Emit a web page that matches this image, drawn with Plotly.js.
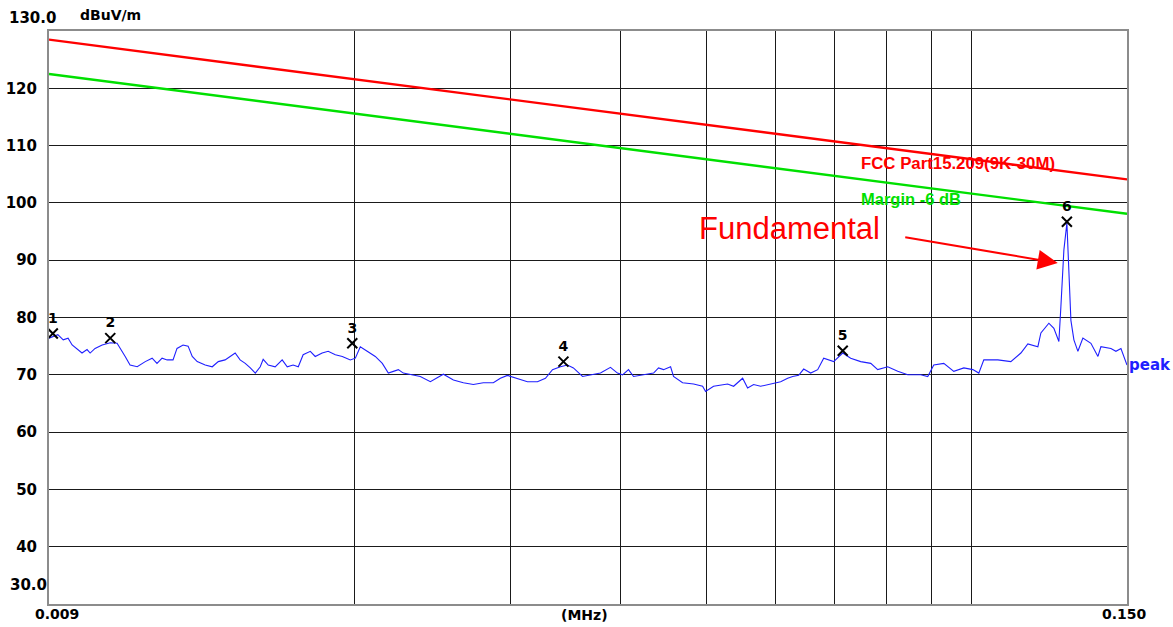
<!DOCTYPE html>
<html>
<head>
<meta charset="utf-8">
<script src="https://cdn.plot.ly/plotly-3.0.1.min.js"></script>
<style>html,body{margin:0;padding:0;background:#fff;}#chart{width:1173px;height:627px;}</style>
</head>
<body>
<div id="chart"></div>
<script>
// ---- data ----
const freqMHz = [
  0.00900,0.00921,0.00934,0.00946,0.00956,0.00968,0.00981,0.00994,0.01002,0.01015,
  0.01034,0.01056,0.01075,0.01098,0.01112,0.01133,0.01157,0.01178,0.01193,0.01209,
  0.01225,0.01244,0.01257,0.01277,0.01294,0.01308,0.01325,0.01353,0.01378,0.01400,
  0.01425,0.01444,0.01463,0.01482,0.01502,0.01522,0.01542,0.01562,0.01574,0.01595,
  0.01624,0.01654,0.01676,0.01702,0.01725,0.01747,0.01780,0.01803,0.01836,0.01865,
  0.01900,0.01935,0.01976,0.02002,0.02028,0.02065,0.02109,0.02148,0.02182,0.02211,
  0.02240,0.02269,0.02311,0.02372,0.02435,0.02519,0.02586,0.02654,0.02724,0.02796,
  0.02870,0.02923,0.02977,0.03056,0.03137,0.03220,0.03288,0.03349,0.03419,0.03482,
  0.03537,0.03622,0.03698,0.03796,0.03896,0.03968,0.04021,0.04084,0.04138,0.04247,
  0.04360,0.04417,0.04475,0.04558,0.04593,0.04703,0.04840,0.04955,0.04994,0.05099,
  0.05289,0.05373,0.05501,0.05573,0.05661,0.05765,0.05918,0.06075,0.06187,0.06268,
  0.06367,0.06451,0.06570,0.06691,0.06797,0.06977,0.07143,0.07293,0.07486,0.07685,
  0.07826,0.08034,0.08246,0.08464,0.08757,0.08918,0.09059,0.09299,0.09545,0.09798,
  0.10031,0.10189,0.10323,0.10708,0.11077,0.11371,0.11580,0.11887,0.11981,0.12233,
  0.12394,0.12557,0.12623,0.12722,0.12822,0.12889,0.12957,0.13059,0.13196,0.13369,
  0.13652,0.13904,0.14013,0.14384,0.14573,0.14765,0.14959,0.15000];
const peakLevel = [
  76.4,77.0,76.1,76.4,75.2,74.6,73.8,74.4,73.8,74.6,
  75.2,75.6,75.5,73.2,71.7,71.4,72.3,72.9,72.0,72.9,
  72.6,72.6,74.6,75.2,75.0,73.2,72.3,71.7,71.4,72.3,
  72.6,73.2,73.8,72.6,72.0,71.2,70.3,71.4,72.7,71.7,
  71.4,72.6,71.4,71.7,71.4,73.5,74.1,73.2,73.8,74.1,
  73.5,73.2,72.6,72.9,74.9,74.1,73.2,72.0,70.3,70.6,
  70.9,70.3,70.0,69.7,68.8,70.1,69.1,68.6,68.3,68.6,
  68.6,69.4,69.9,69.4,68.8,68.8,69.4,70.9,71.4,71.7,
  71.2,69.7,70.0,70.3,71.3,70.3,70.0,70.9,69.7,70.0,
  70.3,71.2,70.9,71.4,69.7,68.6,68.4,68.0,67.1,68.0,
  68.4,68.0,69.4,67.7,68.3,68.0,68.4,68.8,69.4,69.7,
  69.9,71.0,70.3,70.9,72.9,72.3,73.8,72.9,72.3,72.0,
  70.9,71.4,70.6,70.0,70.0,69.7,71.7,72.0,70.6,71.2,
  70.9,70.3,72.6,72.6,72.3,73.8,75.4,74.9,77.3,79.0,
  78.1,75.8,81.9,91.8,96.5,88.9,79.5,76.1,74.1,76.4,
  75.5,73.2,74.9,74.6,74.1,74.6,72.0,71.7];

const limitFreq = [0.009, 0.150];
const limitLevel = [128.5, 104.1];   // FCC Part15.209
const marginLevel = [122.5, 98.1];   // Margin -6 dB

const markerFreq = [0.00909, 0.01056, 0.01986, 0.03446, 0.07143, 0.12822];
const markerLevel = [77.2, 76.4, 75.5, 72.3, 74.2, 96.7];
const markerLabels = ['1','2','3','4','5','6'];

const yTickVals = [40,50,60,70,80,90,100,110,120];
const yTickText = ['40','50','60','70','80','90','100','110','120'];
const xGridVals = [0.02,0.03,0.04,0.05,0.06,0.07,0.08,0.09,0.1];

// ---- chart ----
const FONT = 'Liberation Sans, Arial, sans-serif';
const AXFONT = 'DejaVu Sans, sans-serif';
const traces = [
  {x: limitFreq, y: limitLevel, mode: 'lines', line: {color: '#ff0000', width: 2.4}, hoverinfo: 'skip'},
  {x: limitFreq, y: marginLevel, mode: 'lines', line: {color: '#00e000', width: 2.4}, hoverinfo: 'skip'},
  {x: freqMHz, y: peakLevel, mode: 'lines', line: {color: '#1f1fff', width: 1.1}, hoverinfo: 'skip'},
  {x: markerFreq, y: markerLevel, mode: 'markers+text', text: markerLabels, textposition: 'top center',
   textfont: {family: AXFONT, size: 14, color: '#000', weight: 'bold'},
   marker: {symbol: 'x-thin-open', size: 10, color: '#000', line: {color: '#000', width: 2}}, hoverinfo: 'skip'}
];

const layout = {
  width: 1173, height: 627,
  margin: {l: 49, r: 46, t: 31, b: 23, pad: 0},
  paper_bgcolor: '#fff', plot_bgcolor: '#fff',
  showlegend: false,
  font: {family: FONT, color: '#000'},
  xaxis: {
    type: 'log', range: [Math.log10(0.009), Math.log10(0.150)],
    tickvals: xGridVals, showticklabels: false, ticks: '',
    showgrid: true, gridcolor: '#1a1a1a', gridwidth: 1,
    showline: true, linecolor: '#8c8c8c', linewidth: 2, mirror: true,
    zeroline: false, fixedrange: true
  },
  yaxis: {
    range: [30, 130], tickvals: yTickVals, ticktext: yTickText,
    ticks: 'outside', ticklen: 7, tickcolor: 'rgba(0,0,0,0)',
    tickfont: {family: AXFONT, size: 15, color: '#000', weight: 'bold'},
    showgrid: true, gridcolor: '#1a1a1a', gridwidth: 1,
    showline: true, linecolor: '#8c8c8c', linewidth: 2, mirror: true,
    zeroline: false, fixedrange: true
  },
  annotations: [
    {xref: 'paper', yref: 'paper', x: 0, y: 1, xshift: -42, yshift: 13, xanchor: 'left', yanchor: 'middle',
     text: '130.0', showarrow: false, font: {family: AXFONT, size: 15, weight: 'bold'}},
    {xref: 'paper', yref: 'paper', x: 0, y: 0, xshift: -41, yshift: 19, xanchor: 'left', yanchor: 'middle',
     text: '30.0', showarrow: false, font: {family: AXFONT, size: 15, weight: 'bold'}},
    {xref: 'paper', yref: 'paper', x: 0, y: 1, xshift: 29, yshift: 16, xanchor: 'left', yanchor: 'middle',
     text: 'dBuV/m', showarrow: false, font: {family: AXFONT, size: 14, weight: 'bold'}},
    {xref: 'paper', yref: 'paper', x: 0, y: 0, xshift: -16, yshift: -10, xanchor: 'left', yanchor: 'middle',
     text: '0.009', showarrow: false, font: {family: AXFONT, size: 14, weight: 'bold'}},
    {xref: 'paper', yref: 'paper', x: 0.4963, y: 0, yshift: -11, xanchor: 'center', yanchor: 'middle',
     text: '(MHz)', showarrow: false, font: {family: AXFONT, size: 14, weight: 'bold'}},
    {xref: 'paper', yref: 'paper', x: 1, y: 0, xshift: -27, yshift: -10, xanchor: 'left', yanchor: 'middle',
     text: '0.150', showarrow: false, font: {family: AXFONT, size: 14, weight: 'bold'}},
    {xref: 'paper', yref: 'y', x: 1, y: 71.7, xshift: 0, xanchor: 'left', yanchor: 'middle',
     text: 'peak', showarrow: false, font: {family: AXFONT, size: 15, color: '#1f1fff', weight: 'bold'}},
    {xref: 'x', yref: 'y', x: Math.log10(0.0745), y: 106.9, xanchor: 'left', yanchor: 'middle',
     text: 'FCC Part15.209(9K-30M)', showarrow: false, font: {family: FONT, size: 16.8, color: '#ff0000', weight: 'bold'}},
    {xref: 'x', yref: 'y', x: Math.log10(0.0745), y: 100.6, xanchor: 'left', yanchor: 'middle',
     text: 'Margin -6 dB', showarrow: false, font: {family: FONT, size: 16.5, color: '#00e000', weight: 'bold'}},
    {xref: 'x', yref: 'y', x: Math.log10(0.0622), y: 95.6, xanchor: 'center', yanchor: 'middle',
     text: 'Fundamental', showarrow: false, font: {family: FONT, size: 31, color: '#ff0000'}},
    {xref: 'x', yref: 'y', x: Math.log10(0.1252), y: 89.5, ax: -154, ay: -26, axref: 'pixel', ayref: 'pixel',
     text: '', showarrow: true, arrowhead: 2, arrowsize: 2, arrowwidth: 2, arrowcolor: '#ff0000'}
  ]
};

Plotly.newPlot('chart', traces, layout, {staticPlot: true, displayModeBar: false});
</script>
</body>
</html>
